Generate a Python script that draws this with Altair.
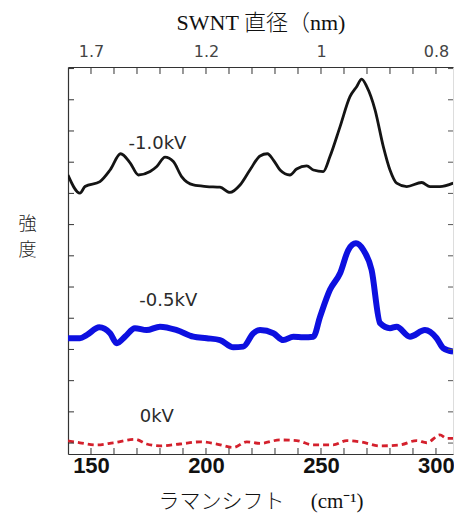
import altair as alt
import pandas as pd

# ---- data ----
black_x = [140.0, 145.2, 147.4, 153.9, 158.3, 162.9, 167.0, 170.6, 175.7, 178.6, 182.2, 185.8, 189.4, 194.5,
           200.3, 206.1, 210.4, 214.8, 219.1, 223.5, 226.7, 229.3, 232.2, 236.5, 239.4, 243.8, 246.7, 251.0,
           253.9, 258.3, 262.6, 265.5, 267.7, 269.9, 273.5, 277.1, 280.0, 282.9, 287.3, 293.8, 297.4, 301.7, 307.5]
black_y = [8.59, 8.01, 8.22, 8.38, 8.75, 9.27, 8.98, 8.59, 8.70, 8.86, 9.16, 9.02, 8.54, 8.27,
           8.22, 8.20, 8.03, 8.27, 8.75, 9.20, 9.27, 9.07, 8.75, 8.59, 8.78, 8.88, 8.75, 8.70,
           9.18, 10.14, 11.10, 11.42, 11.66, 11.42, 10.68, 9.50, 8.75, 8.33, 8.22, 8.35, 8.22, 8.22, 8.33]

blue_x = [140.0, 145.2, 148.1, 153.6, 158.3, 161.2, 164.8, 169.1, 174.2, 180.0, 187.3, 194.5, 200.3, 206.1,
          211.9, 216.2, 220.6, 223.5, 229.3, 233.6, 238.0, 242.3, 246.7, 249.6, 253.9, 258.3, 261.9, 265.2,
          268.4, 272.0, 275.7, 280.0, 282.9, 288.7, 295.2, 300.3, 303.2, 307.5]
blue_y = [3.36, 3.36, 3.46, 3.71, 3.52, 3.20, 3.41, 3.68, 3.62, 3.73, 3.62, 3.41, 3.36, 3.30,
          3.07, 3.09, 3.52, 3.62, 3.52, 3.30, 3.41, 3.39, 3.41, 4.05, 4.91, 5.44, 6.19, 6.40,
          6.19, 5.55, 3.84, 3.68, 3.73, 3.41, 3.62, 3.36, 3.04, 2.93]

red_x = [140.0, 145.2, 152.5, 159.7, 169.1, 174.2, 180.0, 188.7, 197.4, 204.7, 211.9, 217.7, 223.5,
         232.2, 239.4, 246.7, 255.3, 261.2, 267.0, 275.7, 284.3, 291.6, 296.0, 301.7, 304.7, 307.5]
red_y = [0.07, 0.01, -0.06, 0.01, 0.12, -0.03, -0.09, -0.03, 0.04, -0.03, -0.14, 0.04, -0.01,
         0.10, 0.08, -0.06, -0.06, 0.08, 0.04, -0.09, -0.06, 0.08, 0.01, 0.26, 0.15, 0.15]

label_text = ["-1.0kV", "-0.5kV", "0kV"]
label_x = [178.9, 183.6, 178.6]
label_y = [9.59, 4.55, 0.85]

bottom_tick_values = [150, 200, 250, 300]
top_tick_labels = ["1.7", "1.2", "1", "0.8"]
minor_ticks = [150, 160, 170, 180, 190, 200, 210, 220, 230, 240, 250, 260, 270, 280, 290, 300]
y_ticks = [0, 1, 2, 3, 4, 5, 6, 7, 8, 9, 10, 11, 12]

X_DOMAIN = [140, 307.4]
Y_DOMAIN = [-0.35, 12.05]
W, H = 385, 387

xs = alt.Scale(domain=X_DOMAIN, nice=False, zero=False)
ys = alt.Scale(domain=Y_DOMAIN, nice=False, zero=False)

black_df = pd.DataFrame({"x": black_x, "y": black_y})
blue_df = pd.DataFrame({"x": blue_x, "y": blue_y})
red_df = pd.DataFrame({"x": red_x, "y": red_y})
lab_df = pd.DataFrame({"t": label_text, "x": label_x, "y": label_y})
xt_df = pd.DataFrame({"x": minor_ticks})
yt_df = pd.DataFrame({"y": y_ticks})

top_expr = " : ".join(
    f"datum.value == {v} ? '{l}'" for v, l in zip(bottom_tick_values, top_tick_labels)
) + " : ''"

black = alt.Chart(black_df).mark_line(color="#141414", strokeWidth=2.8, clip=True,
                                      interpolate="monotone").encode(
    x=alt.X("x:Q", scale=xs, axis=alt.Axis(
        orient="bottom", values=bottom_tick_values, ticks=False, grid=False, domain=True,
        domainColor="#333", domainWidth=1.2,
        labelFont="Liberation Sans", labelFontWeight="bold", labelFontSize=22, labelColor="#111",
        labelPadding=1, labelFlush=False,
        title="ラマンシフト\u3000 (cm⁻¹)", titleFont="Liberation Serif, Noto Sans CJK JP",
        titleFontWeight=300, titleFontSize=21, titleColor="#111", titlePadding=14)),
    y=alt.Y("y:Q", scale=ys, axis=alt.Axis(
        orient="left", labels=False, ticks=False, grid=False, domain=True,
        domainColor="#333", domainWidth=1.2,
        title=["強", "度"], titleAngle=0, titleFont="Noto Sans CJK JP", titleFontWeight=300,
        titleFontSize=18, titleColor="#222", titleAlign="center", titleBaseline="top",
        titleX=-41, titleY=148, titleLineHeight=26)),
)

top_axis = alt.Chart(black_df).mark_line(opacity=0).encode(
    x=alt.X("x:Q", scale=xs, axis=alt.Axis(
        orient="top", values=bottom_tick_values, labelExpr=top_expr, ticks=False, grid=False,
        domain=True, domainColor="#333", domainWidth=1.2,
        labelFont="DejaVu Sans", labelFontSize=16, labelColor="#444", labelPadding=8,
        labelFlush=False,
        title="SWNT 直径（nm)", titleFont="Liberation Serif, Noto Sans CJK JP",
        titleFontWeight=300, titleFontSize=22, titleColor="#111", titlePadding=9)),
    y=alt.Y("y:Q", scale=ys, axis=None),
)

blue = alt.Chart(blue_df).mark_line(color="#0d10e0", strokeWidth=6, clip=True,
                                    interpolate="monotone").encode(
    x=alt.X("x:Q", scale=xs, axis=None), y=alt.Y("y:Q", scale=ys, axis=None))

red = alt.Chart(red_df).mark_line(color="#d4202c", strokeWidth=2.8, strokeDash=[6, 4], clip=True,
                                  interpolate="monotone").encode(
    x=alt.X("x:Q", scale=xs, axis=None), y=alt.Y("y:Q", scale=ys, axis=None))

labels = alt.Chart(lab_df).mark_text(font="DejaVu Sans", fontSize=18, color="#2a2a2a").encode(
    x=alt.X("x:Q", scale=xs, axis=None), y=alt.Y("y:Q", scale=ys, axis=None), text="t:N")

bt = alt.Chart(xt_df).mark_rule(color="#333", strokeWidth=1).encode(
    x=alt.X("x:Q", scale=xs, axis=None), y=alt.value(H), y2=alt.value(H - 6))
tt = alt.Chart(xt_df).mark_rule(color="#333", strokeWidth=1).encode(
    x=alt.X("x:Q", scale=xs, axis=None), y=alt.value(0), y2=alt.value(7))
lt = alt.Chart(yt_df).mark_rule(color="#333", strokeWidth=1).encode(
    y=alt.Y("y:Q", scale=ys, axis=None), x=alt.value(0), x2=alt.value(6))
rt = alt.Chart(yt_df).mark_rule(color="#555", strokeWidth=1).encode(
    y=alt.Y("y:Q", scale=ys, axis=None), x=alt.value(W - 5), x2=alt.value(W))

chart = alt.layer(black, top_axis, blue, red, labels, bt, tt, lt, rt).resolve_axis(
    x="independent", y="independent"
).properties(
    width=W, height=H,
    autosize=alt.AutoSizeParams(type="none"),
    padding={"left": 68, "top": 67, "right": 1, "bottom": 66},
).configure_view(stroke=None).configure(background="white")

chart.save("out.html", embed_options={"renderer": "svg", "actions": False})
